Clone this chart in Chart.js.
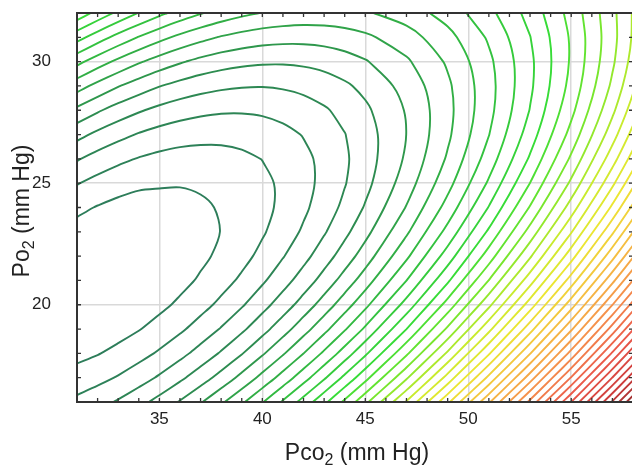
<!DOCTYPE html>
<html>
<head>
<meta charset="utf-8">
<script src="https://cdn.jsdelivr.net/npm/chart.js@4.4.1/dist/chart.umd.min.js"></script>
<style>
  html, body { margin: 0; padding: 0; background: #fff; overflow: hidden; }
  #wrap { width: 640px; height: 466px; }
</style>
</head>
<body>
<div id="wrap"><canvas id="chart" width="640" height="466"></canvas></div>
<script>
// surface: level number at each grid node
const pco2 = [31, 32, 33, 34, 35, 36, 37, 38, 39, 40, 41, 42, 43, 44, 45, 47, 49, 51, 53, 55, 57, 59];
const po2 = [16, 17, 18, 19, 20, 21, 22, 23, 24, 25, 26, 27, 28, 29, 30, 31, 32];
const surface = [
  [2.25, 2.63, 3.11, 3.68, 4.33, 5.08, 5.91, 6.83, 7.83, 8.93, 10.12, 11.39, 12.75, 14.21, 15.74, 19.09, 22.78, 26.84, 31.25, 36.00, 41.12, 46.58],
  [1.38, 1.69, 2.08, 2.56, 3.13, 3.79, 4.53, 5.36, 6.28, 7.30, 8.40, 9.58, 10.86, 12.23, 13.68, 16.85, 20.37, 24.25, 28.49, 33.07, 38.02, 43.31],
  [0.73, 0.95, 1.26, 1.65, 2.13, 2.70, 3.37, 4.11, 4.94, 5.87, 6.89, 7.99, 9.18, 10.46, 11.82, 14.82, 18.17, 21.88, 25.94, 30.35, 35.13, 40.25],
  [0.29, 0.42, 0.64, 0.95, 1.35, 1.83, 2.41, 3.07, 3.81, 4.65, 5.58, 6.60, 7.70, 8.90, 10.17, 13.00, 16.18, 19.72, 23.61, 27.85, 32.45, 37.40],
  [0.06, 0.10, 0.24, 0.47, 0.77, 1.17, 1.66, 2.23, 2.89, 3.65, 4.49, 5.42, 6.44, 7.55, 8.74, 11.39, 14.40, 17.76, 21.48, 25.55, 29.98, 34.76],
  [0.04, 0.00, 0.05, 0.19, 0.41, 0.72, 1.12, 1.61, 2.18, 2.85, 3.61, 4.45, 5.38, 6.41, 7.51, 9.99, 12.83, 16.02, 19.57, 23.46, 27.72, 32.32],
  [0.23, 0.10, 0.06, 0.12, 0.25, 0.48, 0.80, 1.19, 1.68, 2.27, 2.94, 3.69, 4.54, 5.47, 6.49, 8.80, 11.47, 14.49, 17.86, 21.58, 25.67, 30.10],
  [0.63, 0.41, 0.29, 0.26, 0.31, 0.45, 0.68, 1.02, 1.39, 1.89, 2.48, 3.14, 3.90, 4.75, 5.69, 7.83, 10.32, 13.17, 16.37, 19.92, 23.83, 28.09],
  [1.24, 0.94, 0.73, 0.61, 0.57, 0.62, 0.77, 1.12, 1.32, 1.72, 2.22, 2.81, 3.48, 4.24, 5.09, 7.06, 9.38, 12.05, 15.08, 18.46, 22.20, 26.29],
  [2.06, 1.67, 1.37, 1.17, 1.12, 1.08, 1.20, 1.30, 1.45, 1.77, 2.18, 2.68, 3.27, 3.94, 4.70, 6.50, 8.65, 11.15, 14.01, 17.21, 20.78, 24.70],
  [3.09, 2.61, 2.23, 1.94, 1.73, 1.61, 1.59, 1.64, 1.79, 2.02, 2.35, 2.76, 3.26, 3.85, 4.53, 6.15, 8.13, 10.46, 13.14, 16.18, 19.57, 23.31],
  [4.32, 3.76, 3.30, 2.92, 2.62, 2.42, 2.31, 2.28, 2.34, 2.49, 2.73, 3.05, 3.47, 3.97, 4.56, 6.01, 7.81, 9.97, 12.49, 15.35, 18.57, 22.14],
  [5.77, 5.13, 4.57, 4.11, 3.73, 3.44, 3.24, 3.12, 3.10, 3.16, 3.32, 3.55, 3.88, 4.30, 4.81, 6.08, 7.71, 9.70, 12.04, 14.73, 17.78, 21.18],
  [7.43, 6.70, 6.06, 5.51, 5.04, 4.67, 4.38, 4.18, 4.07, 4.04, 4.11, 4.27, 4.51, 4.84, 5.26, 6.36, 7.82, 9.64, 11.81, 14.32, 17.20, 20.43],
  [9.30, 8.48, 7.76, 7.12, 6.57, 6.11, 5.73, 5.44, 5.25, 5.14, 5.12, 5.19, 5.34, 5.59, 5.92, 6.85, 8.14, 9.78, 11.78, 14.13, 16.83, 19.89],
  [11.38, 10.48, 9.66, 8.94, 8.30, 7.75, 7.30, 6.92, 6.64, 6.44, 6.34, 6.32, 6.39, 6.55, 6.80, 7.56, 8.67, 10.14, 11.97, 14.14, 16.67, 19.56],
  [13.67, 12.68, 11.78, 10.97, 10.25, 9.61, 9.07, 8.61, 8.24, 7.96, 7.77, 7.66, 7.65, 7.72, 7.88, 8.47, 9.41, 10.71, 12.36, 14.36, 16.73, 19.43]
];
const levels = [];
for (let k = 1; k <= 46; k++) levels.push(k);

const xTicks = [35, 40, 45, 50, 55];
const yTicks = [20, 25, 30];
const xTitle = ['Pco', '2', ' (mm Hg)'];
const yTitle = ['Po', '2', ' (mm Hg)'];

// green -> yellow -> red, by level
const colorStops = [
  [1, [45, 125, 90]], [5, [45, 140, 80]], [9, [50, 185, 65]], [13, [55, 220, 55]],
  [16, [120, 230, 45]], [19, [200, 235, 45]], [22, [235, 230, 50]], [26, [245, 190, 65]],
  [30, [245, 145, 75]], [35, [235, 90, 75]], [40, [205, 60, 60]], [44, [150, 45, 45]]
];

function levelColor(v) {
  let i = 0;
  while (i < colorStops.length - 2 && v > colorStops[i + 1][0]) i++;
  const [l0, c0] = colorStops[i], [l1, c1] = colorStops[i + 1];
  const t = Math.max(0, Math.min(1, (v - l0) / (l1 - l0)));
  const c = c0.map((ch, n) => Math.round(ch + t * (c1[n] - ch)));
  return `rgb(${c[0]},${c[1]},${c[2]})`;
}

// marching squares on the grid, segments chained into lines
function traceLevel(level) {
  const nx = pco2.length, ny = po2.length;
  const pts = {};
  const segs = [];
  const cross = (key, x1, y1, z1, x2, y2, z2) => {
    if (!(key in pts)) {
      const t = (level - z1) / (z2 - z1);
      pts[key] = { x: x1 + t * (x2 - x1), y: y1 + t * (y2 - y1) };
    }
    return key;
  };
  for (let j = 0; j < ny - 1; j++) {
    for (let i = 0; i < nx - 1; i++) {
      const x0 = pco2[i], x1 = pco2[i + 1], y0 = po2[j], y1 = po2[j + 1];
      const a = surface[j][i], b = surface[j][i + 1];
      const c = surface[j + 1][i + 1], d = surface[j + 1][i];
      const cut = [];
      if ((a < level) !== (b < level)) cut.push(cross('h' + i + '_' + j, x0, y0, a, x1, y0, b));
      if ((b < level) !== (c < level)) cut.push(cross('v' + (i + 1) + '_' + j, x1, y0, b, x1, y1, c));
      if ((d < level) !== (c < level)) cut.push(cross('h' + i + '_' + (j + 1), x0, y1, d, x1, y1, c));
      if ((a < level) !== (d < level)) cut.push(cross('v' + i + '_' + j, x0, y0, a, x0, y1, d));
      if (cut.length === 2) segs.push(cut);
      else if (cut.length === 4) { segs.push([cut[0], cut[1]]); segs.push([cut[2], cut[3]]); }
    }
  }
  const adj = {};
  segs.forEach((s, n) => s.forEach(k => (adj[k] = adj[k] || []).push(n)));
  const used = new Array(segs.length).fill(false);
  const chains = [];
  const starts = Object.keys(adj).sort((p, q) => adj[p].length - adj[q].length);
  for (const start of starts) {
    for (const n0 of adj[start]) {
      if (used[n0]) continue;
      const chain = [start];
      let key = start, n = n0;
      while (n !== undefined && !used[n]) {
        used[n] = true;
        const s = segs[n];
        key = s[0] === key ? s[1] : s[0];
        chain.push(key);
        n = adj[key].find(m => !used[m]);
      }
      chains.push(chain.map(k => pts[k]));
    }
  }
  return chains;
}

const datasets = [];
levels.forEach(level => {
  const color = levelColor(level);
  traceLevel(level).forEach(line => {
    datasets.push({
      data: line,
      borderColor: color,
      borderWidth: 1.9,
      pointRadius: 0,
      tension: 0.3,
      fill: false
    });
  });
});

function drawTitle(ctx, parts, cx, cy, angle) {
  const fonts = ['23px "Liberation Sans", Arial', '16px "Liberation Sans", Arial', '23px "Liberation Sans", Arial'];
  ctx.save();
  ctx.translate(cx, cy);
  ctx.rotate(angle);
  ctx.fillStyle = '#222';
  ctx.textBaseline = 'alphabetic';
  const widths = parts.map((p, i) => { ctx.font = fonts[i]; return ctx.measureText(p).width; });
  let pos = -widths.reduce((s, w) => s + w, 0) / 2;
  parts.forEach((p, i) => {
    ctx.font = fonts[i];
    ctx.fillText(p, pos, i === 1 ? 5 : 0);
    pos += widths[i];
  });
  ctx.restore();
}

const framePlugin = {
  id: 'frame',
  afterDraw(chart) {
    const { ctx, chartArea: a } = chart;
    const x = chart.scales.x, y = chart.scales.y;
    ctx.save();
    ctx.strokeStyle = '#333';
    ctx.lineWidth = 2;
    ctx.strokeRect(a.left, a.top, a.right - a.left, a.bottom - a.top);
    ctx.lineWidth = 1.3;
    ctx.beginPath();
    for (let v = x.min; v <= x.max; v++) {
      const px = x.getPixelForValue(v);
      ctx.moveTo(px, a.bottom); ctx.lineTo(px, a.bottom - 4);
      ctx.moveTo(px, a.top); ctx.lineTo(px, a.top + 4);
    }
    for (let v = y.min; v <= y.max; v++) {
      const py = y.getPixelForValue(v);
      ctx.moveTo(a.left, py); ctx.lineTo(a.left + 4, py);
      ctx.moveTo(a.right, py); ctx.lineTo(a.right - 4, py);
    }
    ctx.stroke();
    drawTitle(ctx, xTitle, (a.left + a.right) / 2 + 2, 460, 0);
    drawTitle(ctx, yTitle, 29, 211, -Math.PI / 2);
    ctx.restore();
  }
};

const tickFont = { family: '"Liberation Sans", Arial', size: 17 };

new Chart(document.getElementById('chart'), {
  type: 'line',
  data: { datasets },
  options: {
    responsive: false,
    animation: false,
    events: [],
    layout: { padding: { top: 13, right: 7, left: 0, bottom: 0 } },
    plugins: { legend: { display: false }, tooltip: { enabled: false } },
    scales: {
      x: {
        type: 'linear', min: 31, max: 58,
        afterBuildTicks: ax => { ax.ticks = xTicks.map(v => ({ value: v })); },
        afterFit: ax => { ax.height = 64; ax.paddingLeft = 0; ax.paddingRight = 0; },
        grid: { color: '#d9d9d9', lineWidth: 1.5, drawTicks: false },
        border: { display: false },
        ticks: { color: '#222', font: tickFont, padding: 7 }
      },
      y: {
        type: 'linear', min: 16, max: 32,
        afterBuildTicks: ax => { ax.ticks = yTicks.map(v => ({ value: v })); },
        afterFit: ax => { ax.width = 77; ax.paddingTop = 0; ax.paddingBottom = 0; },
        grid: { color: '#d9d9d9', lineWidth: 1.5, drawTicks: false },
        border: { display: false },
        ticks: { color: '#222', font: tickFont, padding: 26 }
      }
    }
  },
  plugins: [framePlugin]
});
</script>
</body>
</html>
